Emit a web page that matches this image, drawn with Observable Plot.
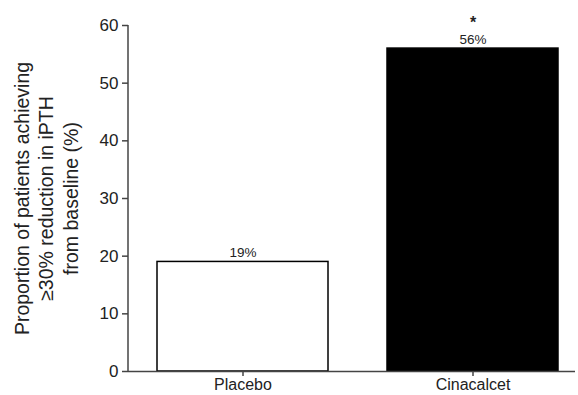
<!DOCTYPE html>
<html>
<head>
<meta charset="utf-8">
<script src="https://cdn.jsdelivr.net/npm/d3@7"></script>
<script src="https://cdn.jsdelivr.net/npm/@observablehq/plot@0.6"></script>
<style>
  body { margin: 0; background: #fff; }
  svg { font-family: "Liberation Sans", Arial, Helvetica, sans-serif; }
</style>
</head>
<body>
<div id="chart"></div>
<script>
const categories = ["Placebo", "Cinacalcet"];
const values = [19, 56];
const valueLabels = ["19%", "56%"];
const significance = ["", "*"];
const yTicks = [0, 10, 20, 30, 40, 50, 60];
const yLabel = "Proportion of patients achieving\n≥30% reduction in iPTH\nfrom baseline (%)";
const fills = ["white", "black"];

const data = categories.map((c, i) => ({
  group: c, value: values[i], label: valueLabels[i], sig: significance[i], fill: fills[i]
}));

const ink = "#222";

const chart = Plot.plot({
  width: 578,
  height: 395,
  marginLeft: 128,
  marginRight: 3,
  marginTop: 25,
  marginBottom: 24,
  style: { fontFamily: "Liberation Sans, Arial, sans-serif", color: ink, background: "white" },
  x: { domain: categories, range: [128, 588], paddingInner: 0.2565, paddingOuter: 0.128, label: null },
  y: { domain: [0, 60], label: null },
  marks: [
    Plot.barY(data, { x: "group", y: "value", fill: "fill", stroke: "black", strokeWidth: 1.5 }),
    Plot.ruleY([0], { stroke: "#444", strokeWidth: 1.5 }),
    Plot.axisY({ ticks: yTicks, tickSize: 6, tickPadding: 4, fontSize: 17, stroke: "#444", strokeWidth: 1.5, fill: ink, label: null }),
    Plot.axisX({ tickSize: 5, tickPadding: 2, fontSize: 16, stroke: "#444", strokeWidth: 1.5, fill: ink, label: null }),
    Plot.text(data, { x: "group", y: "value", text: "label", lineAnchor: "bottom", dy: -5, fontSize: 13.5, fill: ink }),
    Plot.text(data.filter(d => d.sig), { x: "group", y: "value", text: "sig", lineAnchor: "bottom", dy: -21, fontSize: 16, fontWeight: "bold", fill: ink }),
    Plot.text([yLabel], { frameAnchor: "left", rotate: -90, dx: -83, lineAnchor: "middle", textAnchor: "middle", fontSize: 19.5, lineHeight: 1.25, fill: ink })
  ]
});

// y axis line
const svg = d3.select(chart);
svg.append("line")
  .attr("x1", 128).attr("x2", 128).attr("y1", 25).attr("y2", 371)
  .attr("stroke", "#444").attr("stroke-width", 1.5);

document.getElementById("chart").appendChild(chart);
</script>
</body>
</html>
